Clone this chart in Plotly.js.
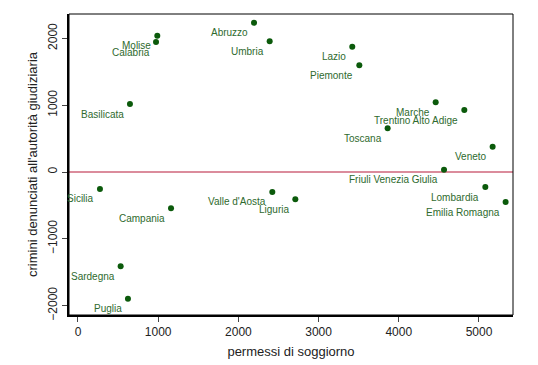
<!DOCTYPE html>
<html>
<head>
<meta charset="utf-8">
<script src="https://cdn.plot.ly/plotly-3.0.1.min.js"></script>
<style>html,body{margin:0;padding:0;background:#fff;}#chart{width:538px;height:365px;}</style>
</head>
<body>
<div id="chart"></div>
<script>
var regions = ["Abruzzo","Umbria","Molise","Calabria","Basilicata","Lazio","Piemonte","Marche","Trentino Alto Adige","Toscana","Veneto","Friuli Venezia Giulia","Lombardia","Emilia Romagna","Sicilia","Campania","Valle d'Aosta","Liguria","Sardegna","Puglia"];
var permessi = [2195,2390,989,973,648,3420,3508,4460,4817,3861,5170,4564,5079,5332,274,1160,2423,2710,532,623];
var crimini = [2235,1956,2040,1946,1018,1876,1597,1043,928,654,379,35,-225,-449,-254,-544,-299,-409,-1412,-1897];
var xTicks = [0,1000,2000,3000,4000,5000];
var yTicks = [-2000,-1000,0,1000,2000];

var trace = {
  x: permessi, y: crimini, mode: 'markers', type: 'scatter',
  marker: {color: '#0b5a0b', size: 6},
  hoverinfo: 'skip', cliponaxis: false
};

var annotations = regions.map(function(r, i){
  return {x: permessi[i], y: crimini[i], xref: 'x', yref: 'y', text: r,
    showarrow: false, xanchor: 'right', yanchor: 'middle', xshift: -4, yshift: -10,
    font: {family: 'Liberation Sans, Arial, sans-serif', size: 10, color: '#2e6a2e'}};
});

var layout = {
  width: 538, height: 365,
  margin: {l: 69, r: 25, t: 14, b: 50},
  paper_bgcolor: '#fff', plot_bgcolor: '#fff',
  showlegend: false,
  font: {family: 'Liberation Sans, Arial, sans-serif', color: '#222'},
  xaxis: {range: [-112, 5424], tickvals: xTicks, ticks: 'outside', ticklen: 5, tickwidth: 1,
    showgrid: false, zeroline: false, showline: true, linewidth: 2, linecolor: '#000',
    tickfont: {size: 12, color: '#222'},
    title: {text: 'permessi di soggiorno', font: {size: 13, color: '#222'}, standoff: 8}},
  yaxis: {range: [-2140, 2365], tickvals: yTicks, ticks: 'outside', ticklen: 5, tickwidth: 1,
    showgrid: false, zeroline: false, showline: true, linewidth: 2, linecolor: '#000',
    tickangle: -90, tickfont: {size: 12, color: '#222'},
    title: {text: "crimini denunciati all'autorità giudiziaria", font: {size: 13, color: '#222'}, standoff: 6}},
  shapes: [
    {type: 'rect', xref: 'paper', yref: 'paper', x0: 0, x1: 1, y0: 0, y1: 1, line: {color: '#000', width: 1}},
    {type: 'line', xref: 'paper', yref: 'y', x0: 0, x1: 1, y0: 0, y1: 0, line: {color: '#b81a3a', width: 1.2}, layer: 'below'}
  ],
  annotations: annotations
};

Plotly.newPlot('chart', [trace], layout, {displayModeBar: false, staticPlot: true});
</script>
</body>
</html>
